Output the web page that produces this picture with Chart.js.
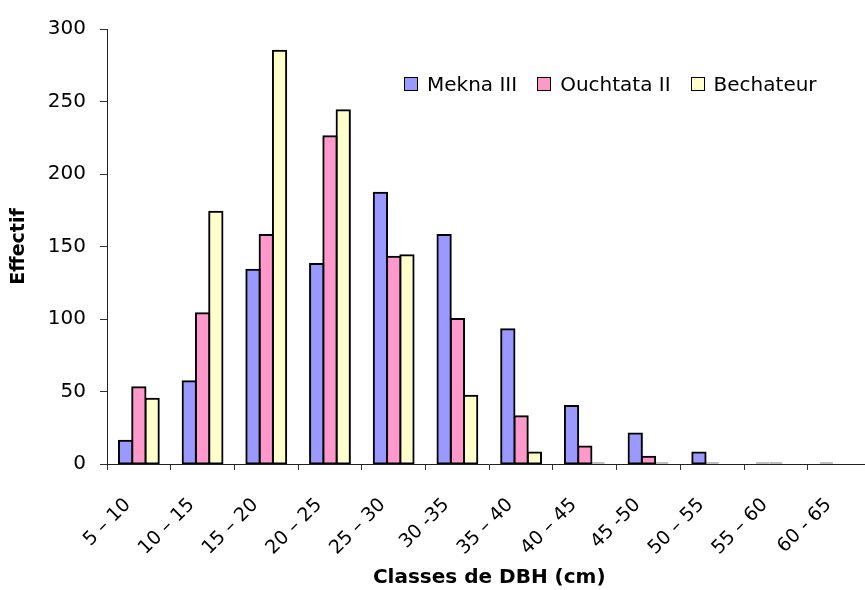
<!DOCTYPE html>
<html lang="fr">
<head>
  <meta charset="UTF-8">
  <title>Classes de DBH</title>
  <script src="https://cdn.jsdelivr.net/npm/chart.js"></script>
  <style>
    html, body { margin: 0; padding: 0; background: #fff; overflow: hidden; }
    .wrap { position: relative; width: 880px; height: 590px; }
    #legende { position: absolute; left: 404px; top: 72px; display: flex; gap: 20px; font: 20px "DejaVu Sans", sans-serif; color: #000; }
    #legende .item { display: flex; align-items: center; white-space: nowrap; }
    #legende .box { width: 12px; height: 12px; border: 1.5px solid #000; margin-right: 9px; }
  </style>
</head>
<body>
  <div class="wrap">
    <canvas id="graficoDBH" width="880" height="590"></canvas>
    <div id="legende"></div>
  </div>

  <script>
    // classes de diametre (DBH)
    const classes = ['5 – 10', '10 – 15', '15 – 20', '20 – 25', '25 – 30', '30 -35',
                     '35 – 40', '40 – 45', '45 -50', '50 – 55', '55 – 60', '60 - 65'];

    const mekna     = [16, 57, 134, 138, 187, 158, 93, 40, 21, 8, 1, 1];
    const ouchtata  = [53, 104, 158, 226, 143, 100, 33, 12, 5, 1, 1, 0];
    const bechateur = [45, 174, 285, 244, 144, 47, 8, 1, 1, 0, 0, 0];

    const yTicks = [0, 50, 100, 150, 200, 250, 300];

    const fonte = 'DejaVu Sans';

    // style commun des barres (bordure noire comme dans Excel)
    const barra = {
      borderColor: '#000',
      borderWidth: 2,
      borderSkipped: false,
      barPercentage: 1.0,
      categoryPercentage: 0.625,
      inflateAmount: ctx => (ctx.raw > 2 ? 1 : 0)
    };

    const chart = new Chart(document.getElementById('graficoDBH'), {
      type: 'bar',
      data: {
        labels: classes,
        datasets: [
          { label: 'Mekna III', data: mekna, backgroundColor: '#9999ff', ...barra },
          { label: 'Ouchtata II', data: ouchtata, backgroundColor: '#ff99cc', ...barra },
          { label: 'Bechateur', data: bechateur, backgroundColor: '#ffffcc', ...barra }
        ]
      },
      options: {
        responsive: false,
        animation: false,
        layout: { padding: { top: 29, right: 6, left: 0, bottom: 0 } },
        plugins: {
          legend: { display: false },
          tooltip: { enabled: false }
        },
        scales: {
          x: {
            grid: { drawOnChartArea: false, tickLength: 6, color: '#333', offset: true },
            border: { color: '#222', width: 1 },
            ticks: {
              color: '#000', autoSkip: false, maxRotation: 45, minRotation: 45,
              padding: 24, labelOffset: -11,
              font: { family: fonte, size: 19 }
            },
            title: {
              display: true, text: 'Classes de DBH (cm)', color: '#000',
              font: { family: fonte, size: 20, weight: 'bold' },
              padding: { top: 0, bottom: 0 }
            },
            afterFit: s => { s.height = 126; }
          },
          y: {
            min: yTicks[0],
            max: yTicks[yTicks.length - 1],
            grid: { drawOnChartArea: false, tickLength: 7, color: '#333' },
            border: { color: '#222', width: 1 },
            ticks: {
              stepSize: yTicks[1] - yTicks[0], color: '#000', padding: 14,
              font: { family: fonte, size: 20 }
            },
            title: {
              display: true, text: 'Effectif', color: '#000',
              font: { family: fonte, size: 19, weight: 'bold' },
              padding: { top: 8, bottom: 0 }
            },
            afterFit: s => { s.width = 107; }
          }
        }
      }
    });

    // legende en HTML, construite depuis les datasets
    const legende = document.getElementById('legende');
    chart.data.datasets.forEach(ds => {
      const item = document.createElement('div');
      item.className = 'item';
      const box = document.createElement('span');
      box.className = 'box';
      box.style.background = ds.backgroundColor;
      const txt = document.createElement('span');
      txt.textContent = ds.label;
      item.appendChild(box);
      item.appendChild(txt);
      legende.appendChild(item);
    });
  </script>
</body>
</html>
